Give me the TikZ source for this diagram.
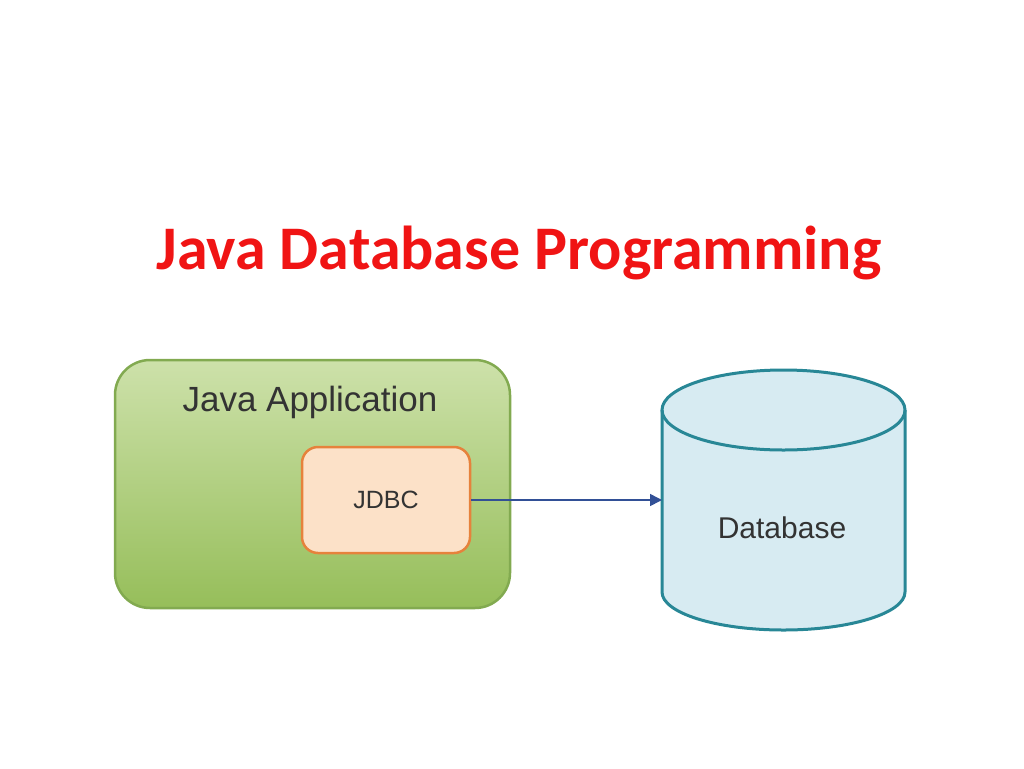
\documentclass[tikz,border=0pt]{standalone}
\usepackage{fontspec}
\setmainfont{Carlito}
\newfontfamily\arialf{Liberation Sans}
\usetikzlibrary{arrows.meta}
\definecolor{titlered}{RGB}{240,20,20}
\definecolor{gborder}{RGB}{130,170,80}
\definecolor{gtop}{RGB}{205,225,170}
\definecolor{gbot}{RGB}{150,190,90}
\definecolor{oborder}{RGB}{230,130,60}
\definecolor{ofill}{RGB}{252,225,200}
\definecolor{cyl}{RGB}{40,135,150}
\definecolor{cylfill}{RGB}{215,235,242}
\definecolor{arr}{RGB}{50,80,150}
\tikzset{lbl/.style={font=\arialf, text=black!80}}
\begin{document}
\begin{tikzpicture}[x=1pt,y=-1pt]
\useasboundingbox (0,0) rectangle (1024,768);
\node[font=\bfseries\fontsize{62}{68}\selectfont, text=titlered] (title) at (519,253) {Java Database Programming};
\node[draw=gborder, line width=2.5pt, rounded corners=35pt, top color=gtop, bottom color=gbot,
  minimum width=395pt, minimum height=248pt] (app) at (312.5,484) {};
\node[lbl, font=\arialf\fontsize{35}{38}\selectfont] (applbl) at (310,402) {Java Application};
\node[draw=oborder, line width=2.5pt, rounded corners=16pt, fill=ofill,
  minimum width=168pt, minimum height=106pt, lbl, font=\arialf\fontsize{25}{28}\selectfont] (jdbc) at (386,500) {JDBC};
% cylinder
\fill[cylfill] (662,410) -- (662,592) arc[start angle=180,end angle=0,x radius=121.5,y radius=38] -- (905,410) arc[start angle=0,end angle=-180,x radius=121.5,y radius=40];
\draw[cyl, line width=3pt] (662,410) -- (662,592) arc[start angle=180,end angle=0,x radius=121.5,y radius=38] -- (905,410);
\draw[cyl, line width=3pt] (783.5,410) ellipse[x radius=121.5,y radius=40];
\node[lbl, font=\arialf\fontsize{30}{34}\selectfont] (db) at (782,528) {Database};
\coordinate (dbleft) at (662,500);
\draw[arr, line width=1.5pt, -{Triangle[length=12pt,width=12pt]}] (jdbc.east) -- (dbleft);
\end{tikzpicture}
\end{document}
